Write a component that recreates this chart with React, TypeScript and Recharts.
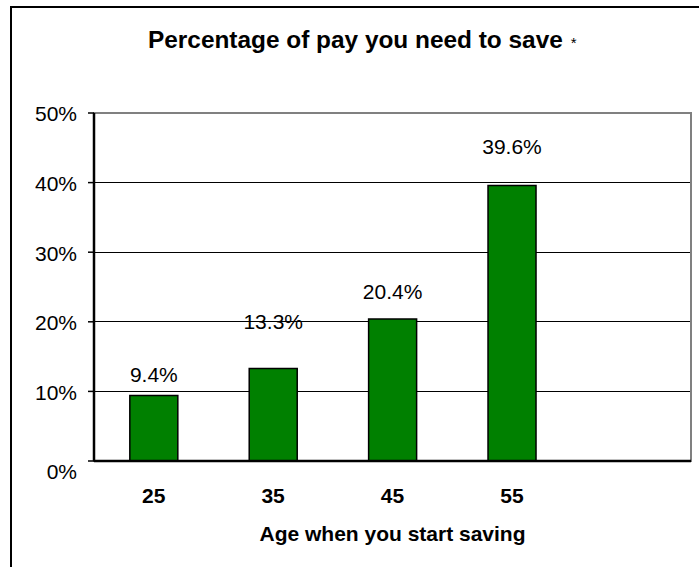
import { BarChart, Bar, XAxis, YAxis, CartesianGrid, LabelList, Label, ReferenceArea } from 'recharts';

const AGES = ['25', '35', '45', '55', ''];
const SAVE_PCT: (number | null)[] = [9.4, 13.3, 20.4, 39.6, null];
const Y_TICKS = [0, 10, 20, 30, 40, 50];

const TITLE = 'Percentage of pay you need to save';
const X_TITLE = 'Age when you start saving';

// how far each value label sits above its bar (px), as in the original
const LABEL_LIFT = [14, 39, 20, 31];

const FONT = '"Liberation Sans", Arial, sans-serif';

const data = AGES.map((age, i) => ({ age, pct: SAVE_PCT[i] }));

const YTick = (props: any) => {
  const { x, y, payload } = props;
  const shift = payload.value === 0 ? 11 : 1;
  return (
    <text x={x} y={y + shift} dy="0.355em" textAnchor="end" fontSize={21} fontFamily={FONT} fill="#000">
      {`${payload.value}%`}
    </text>
  );
};

const XTick = (props: any) => {
  const { x, y, payload } = props;
  return (
    <text x={x} y={y + 42} textAnchor="middle" fontSize={21} fontWeight="bold" fontFamily={FONT} fill="#000">
      {payload.value}
    </text>
  );
};

const ValueLabel = (props: any) => {
  const { x, y, width, value, index } = props;
  if (value == null) return null;
  const i = index ?? SAVE_PCT.indexOf(value);
  return (
    <text x={x + width / 2} y={y - (LABEL_LIFT[i] ?? 14)} textAnchor="middle" fontSize={21} fontFamily={FONT} fill="#000">
      {`${Number(value).toFixed(1)}%`}
    </text>
  );
};

const App = () => {
  return (
    <div style={{ position: 'absolute', left: 0, top: 0, width: 699, height: 567, overflow: 'hidden', background: '#fff' }}>
      <div
        style={{
          position: 'absolute', left: 10, top: 6, width: 720, height: 600,
          borderLeft: '2px solid #000', borderTop: '2px solid #000',
        }}
      />
      <svg width={699} height={70} style={{ position: 'absolute', left: 0, top: 0 }}>
        <text x={148} y={48} fontSize={24.4} fontWeight="bold" fontFamily={FONT} fill="#000">
          {TITLE}
          <tspan dx={8} fontSize={15} fontWeight="normal">*</tspan>
        </text>
      </svg>
      <div style={{ position: 'absolute', left: 0, top: 0 }}>
        <BarChart
          width={699}
          height={567}
          data={data}
          margin={{ top: 113, right: 8, bottom: 0, left: 1 }}
          barCategoryGap="30%"
        >
          <CartesianGrid vertical={false} stroke="#000" strokeWidth={1} shapeRendering="crispEdges" />
          <ReferenceArea y1={0} y2={50} fill="none" stroke="#808080" strokeWidth={2} ifOverflow="visible" />
          <XAxis
            dataKey="age"
            interval={0}
            height={106}
            tickLine={false}
            tickSize={0}
            tickMargin={0}
            axisLine={{ stroke: '#000', strokeWidth: 2.5 }}
            tick={<XTick />}
          >
            <Label
              value={X_TITLE}
              position="insideBottom"
              offset={26}
              style={{ fontSize: 21, fontWeight: 'bold', fontFamily: FONT, fill: '#000' }}
            />
          </XAxis>
          <YAxis
            width={93}
            domain={[0, 50]}
            ticks={Y_TICKS}
            tickSize={6}
            tickMargin={11}
            tickLine={{ stroke: '#000', strokeWidth: 1.5 }}
            axisLine={{ stroke: '#000', strokeWidth: 2.5 }}
            tick={<YTick />}
          />
          <Bar dataKey="pct" fill="#008000" stroke="#000" strokeWidth={1.5} isAnimationActive={false}>
            <LabelList dataKey="pct" content={<ValueLabel />} />
          </Bar>
        </BarChart>
      </div>
    </div>
  );
};

export default App;
